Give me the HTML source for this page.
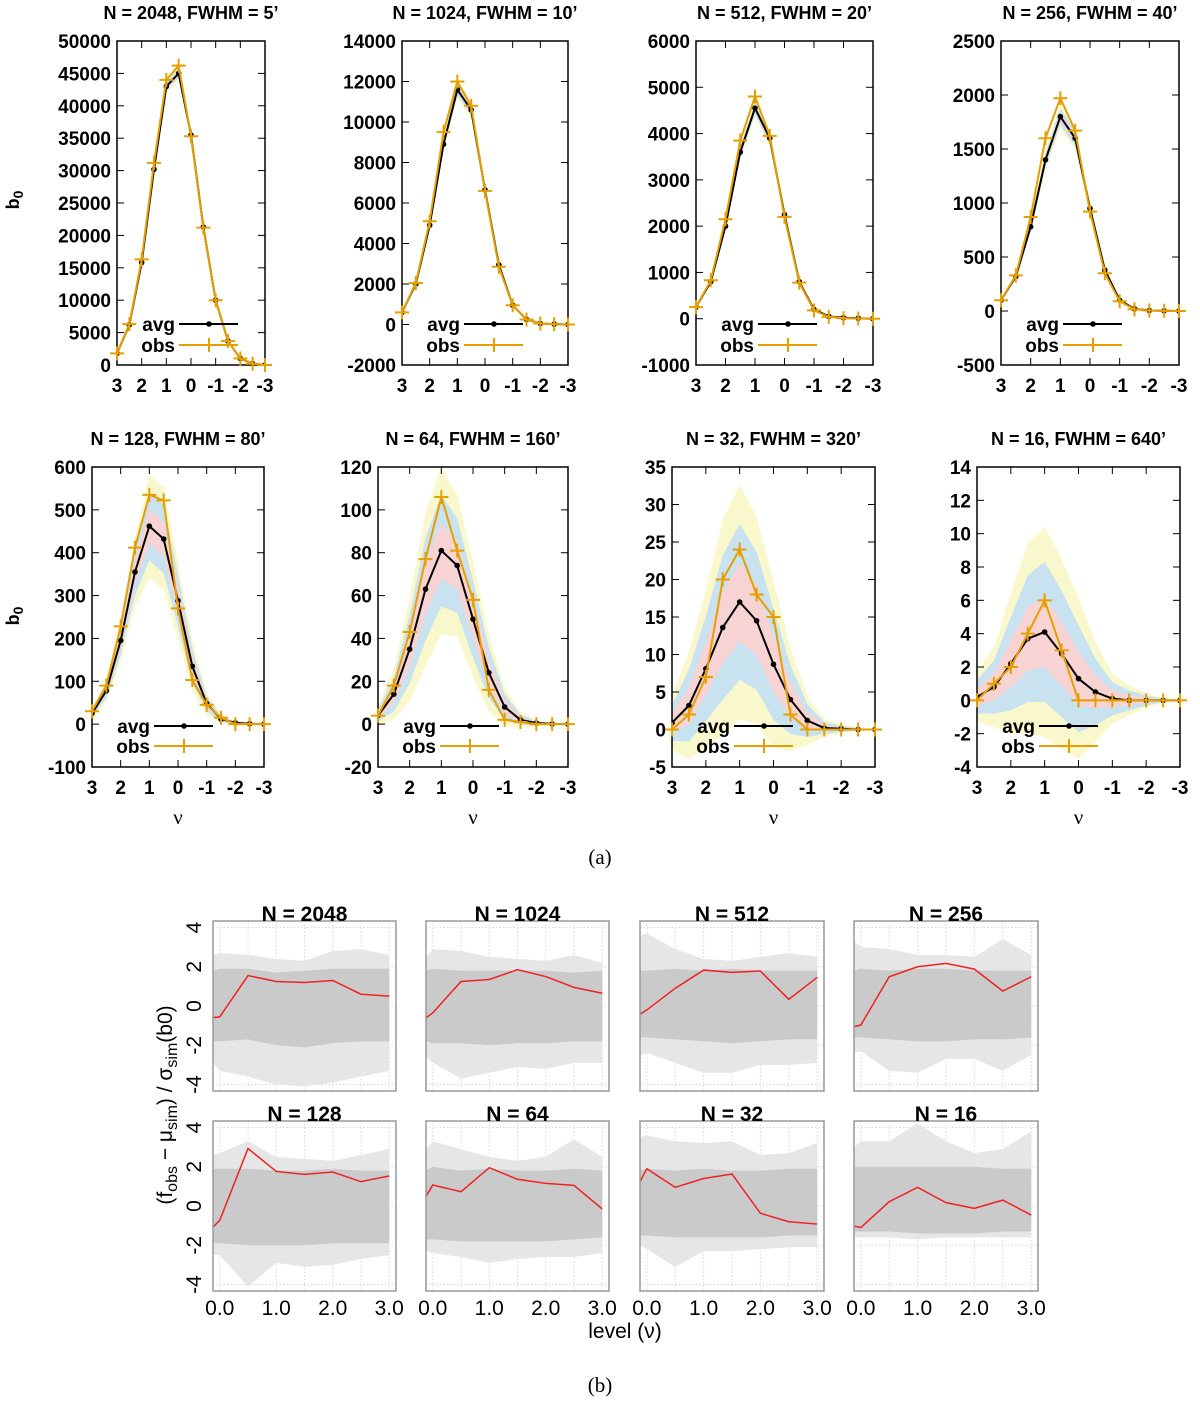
<!DOCTYPE html>
<html><head><meta charset="utf-8"><style>
html,body{margin:0;padding:0;background:#fff;}
svg{display:block;}
.tk{font-family:"Liberation Sans",sans-serif;font-weight:bold;font-size:19px;fill:#000;}
.tt{font-family:"Liberation Sans",sans-serif;font-weight:bold;font-size:18px;fill:#000;}
.sr{font-family:"Liberation Serif",serif;font-size:21px;fill:#000;}
.bt{font-family:"Liberation Sans",sans-serif;font-weight:bold;font-size:21px;fill:#000;}
.bl{font-family:"Liberation Sans",sans-serif;font-size:21px;fill:#000;}
</style></head><body>
<svg id="fig" width="1200" height="1405" viewBox="0 0 1200 1405" xmlns="http://www.w3.org/2000/svg">
<text class="sr" x="600" y="864" text-anchor="middle">(a)</text>
<text class="sr" x="600" y="1392" text-anchor="middle">(b)</text>
<text class="bl" x="625" y="1338" text-anchor="middle">level (ν)</text>
<text class="bl" transform="translate(172,1105) rotate(-90)" text-anchor="middle" font-size="23">(f<tspan font-size="16" dy="5">obs</tspan><tspan dy="-5"> − μ</tspan><tspan font-size="16" dy="5">sim</tspan><tspan dy="-5">) / σ</tspan><tspan font-size="16" dy="5">sim</tspan><tspan dy="-5">(b0)</tspan></text>
<text class="tt" transform="translate(19,200) rotate(-90)" text-anchor="middle" font-size="21">b<tspan font-size="14" dy="4">0</tspan></text>
<text class="tt" transform="translate(19,616) rotate(-90)" text-anchor="middle" font-size="21">b<tspan font-size="14" dy="4">0</tspan></text>
</svg>
<script>
// ---------- Part (a) data ----------
const nuLevels = [3,2.5,2,1.5,1,0.5,0,-0.5,-1,-1.5,-2,-2.5,-3];
const nuTicks = [3,2,1,0,-1,-2,-3];
const titlesA = ["N = 2048, FWHM = 5\u2019","N = 1024, FWHM = 10\u2019","N = 512, FWHM = 20\u2019","N = 256, FWHM = 40\u2019","N = 128, FWHM = 80\u2019","N = 64, FWHM = 160\u2019","N = 32, FWHM = 320\u2019","N = 16, FWHM = 640\u2019"];
const yMinA = [0,-2000,-1000,-500,-100,-20,-5,-4];
const yMaxA = [50000,14000,6000,2500,600,120,35,14];
const yStepA = [5000,2000,1000,500,100,20,5,2];
const avg1 = [1800,6200,15800,30200,43000,45000,35500,21300,10000,3700,1000,200,0];
const obs1 = [1800,6300,16300,31200,44000,46200,35300,21200,10000,3700,1000,200,0];
const sig1 = [25,70,150,250,350,350,250,150,70,30,10,3,0];
const avg2 = [600,2000,4900,8900,11600,10600,6650,2950,950,250,50,20,0];
const obs2 = [600,2050,5100,9500,12000,10800,6600,2850,950,250,50,20,0];
const sig2 = [10,30,65,110,150,140,90,40,15,5,2,1,0];
const avg3 = [250,800,2000,3600,4550,3900,2250,800,200,50,20,10,0];
const obs3 = [250,830,2150,3850,4800,3950,2200,780,180,40,10,5,0];
const sig3 = [5,15,30,50,65,60,40,18,6,2,1,0,0];
const avg4 = [100,320,780,1400,1800,1600,950,380,100,20,5,2,0];
const obs4 = [100,330,870,1600,1970,1670,920,350,90,15,5,2,0];
const sig4 = [3,8,18,30,38,35,23,10,3,1,0.5,0,0];
const avg5 = [25,78,195,355,462,432,288,135,48,12,3,1,0];
const obs5 = [30,90,228,412,535,522,270,103,45,15,0,0,0];
const sig5 = [4,9,17,27,40,40,30,20,9,4,1,0.5,0];
const avg6 = [4,14,35,63,81,74,49,24,8,2,0.5,0.1,0];
const obs6 = [4,18,43,77,106,81,58,16,2,1,0,0,0];
const sig6 = [1.5,4,8,12,13,11,9,6,3,1.2,0.5,0.2,0];
const avg7 = [0.9,3.2,8.1,13.6,17,14.5,8.7,4,1.2,0.2,0.1,0,0];
const obs7 = [0,2,7,20,24,18,15,2,0,0,0,0,0];
const sig7 = [1.2,2.4,3.5,4.8,5.2,4.6,3.7,2.3,1.1,0.4,0.2,0.1,0];
const avg8 = [0.2,0.8,2.2,3.7,4.1,2.8,1.3,0.5,0.1,0,0,0,0];
const obs8 = [0,1,2,4,6,3,0,0,0,0,0,0,0];
const sig8 = [0.5,0.8,1.4,1.9,2.1,1.9,1.6,1.0,0.5,0.3,0.15,0.05,0];

// ---------- Part (b) data ----------
const levelX = [-0.12,0,0.5,1,1.5,2,2.5,3];
const levelTicks = [0,1,2,3];
const titlesB = ["N = 2048","N = 1024","N = 512","N = 256","N = 128","N = 64","N = 32","N = 16"];
const redB1 = [-0.6,-0.55,1.55,1.25,1.2,1.3,0.6,0.5];
const redB2 = [-0.6,-0.35,1.25,1.35,1.85,1.5,0.95,0.65];
const redB3 = [-0.42,-0.2,0.9,1.83,1.71,1.78,0.34,1.46];
const redB4 = [-1.05,-0.97,1.49,2.0,2.17,1.88,0.76,1.49];
const redB5 = [-1.07,-0.73,2.93,1.76,1.61,1.73,1.24,1.53];
const redB6 = [0.5,1.07,0.73,1.95,1.36,1.15,1.05,-0.15];
const redB7 = [1.24,1.9,0.95,1.4,1.63,-0.37,-0.8,-0.92];
const redB8 = [-1.02,-1.1,0.22,0.95,0.17,-0.12,0.3,-0.46];
const outerHi = [[2.6,2.7,2.6,2.4,2.3,2.8,2.9,2.6],[2.5,2.9,2.8,2.5,2.4,2.3,2.6,2.2],[3.6,3.7,2.9,2.4,2.3,2.5,2.7,2.5],[3.3,3.0,2.9,2.6,2.6,2.5,3.4,2.6],[2.6,2.7,3.3,2.5,2.4,2.3,2.6,2.9],[2.9,3.3,2.9,2.5,2.3,2.5,3.4,2.5],[3.5,3.6,3.3,3.2,3.3,2.6,2.7,3.2],[3.0,3.3,3.3,4.2,3.3,2.7,2.9,3.8]];
const outerLo = [[-2.9,-3.3,-3.6,-4.0,-4.1,-3.9,-3.6,-3.3],[-2.6,-2.9,-3.7,-3.4,-3.1,-3.2,-2.9,-2.9],[-2.5,-2.4,-2.9,-3.4,-3.4,-3.0,-3.0,-2.9],[-2.4,-2.3,-3.3,-3.4,-2.7,-2.7,-3.3,-2.5],[-2.5,-2.5,-4.1,-2.9,-3.1,-3.0,-2.7,-2.5],[-2.3,-2.4,-2.6,-2.9,-2.7,-2.6,-2.6,-2.4],[-2.0,-2.2,-3.1,-2.3,-2.3,-2.2,-2.1,-2.1],[-1.6,-1.6,-1.6,-1.7,-1.6,-1.6,-1.6,-1.6]];
const innerHi = [[1.8,1.9,1.9,1.7,1.8,1.9,1.9,1.9],[1.8,1.9,1.8,1.8,1.8,1.8,1.7,1.8],[1.8,1.8,1.9,1.8,1.9,1.8,1.8,1.8],[1.8,1.9,1.8,1.9,1.9,1.8,1.8,1.8],[1.9,1.9,1.9,1.8,1.8,1.9,1.8,1.8],[1.8,2.0,1.8,1.9,1.8,1.8,1.9,1.8],[1.8,1.9,1.8,1.9,1.8,1.8,1.9,1.9],[2.0,2.0,2.0,2.0,2.0,2.0,1.9,1.9]];
const innerLo = [[-1.8,-1.8,-1.7,-2.0,-2.1,-1.9,-1.8,-1.8],[-1.8,-1.9,-1.9,-2.0,-1.9,-1.9,-1.8,-1.8],[-1.6,-1.6,-1.7,-1.8,-1.9,-1.8,-1.7,-1.7],[-1.6,-1.6,-1.7,-1.8,-1.8,-1.7,-1.7,-1.6],[-1.9,-1.9,-2.0,-2.0,-2.0,-1.9,-1.9,-1.9],[-1.7,-1.7,-1.8,-1.8,-1.8,-1.8,-1.7,-1.6],[-1.5,-1.5,-1.6,-1.6,-1.6,-1.6,-1.5,-1.5],[-1.3,-1.3,-1.3,-1.4,-1.4,-1.4,-1.3,-1.3]];

const NS="http://www.w3.org/2000/svg";
const svg=document.getElementById('fig');
function mk(tag,attrs,parent){const e=document.createElementNS(NS,tag);for(const k in attrs)e.setAttribute(k,attrs[k]);(parent||svg).appendChild(e);return e;}

const avgs=[avg1,avg2,avg3,avg4,avg5,avg6,avg7,avg8];
const obss=[obs1,obs2,obs3,obs4,obs5,obs6,obs7,obs8];
const sigs=[sig1,sig2,sig3,sig4,sig5,sig6,sig7,sig8];
const frA=[[117,265,41,365],[402,568,41,365],[696,873,41,365],[1001,1179,41,365],[92,264,467,767],[378,568,467,767],[672,875,467,767],[977,1180,467,767]];

frA.forEach((f,i)=>{
  const [L,R,T,B]=f;
  const g=mk('g',{});
  
  
  const ymin=yMinA[i],ymax=yMaxA[i];
  const xs=v=>L+(3-v)/6*(R-L);
  const ys=v=>B-(v-ymin)/(ymax-ymin)*(B-T);
  const cid='clipA'+i;
  const cp=mk('clipPath',{id:cid},g);mk('rect',{x:L,y:T,width:R-L,height:B-T},cp);
  const cg=mk('g',{'clip-path':'url(#'+cid+')'},g);
  const a=avgs[i],o=obss[i],s=sigs[i];
  [[3,'#f9f7cc'],[2,'#c9e2f0'],[1,'#f8d3d3']].forEach(([k,c])=>{
    let pts=nuLevels.map((v,j)=>xs(v)+','+ys(a[j]+k*s[j]));
    pts=pts.concat(nuLevels.map((v,j)=>xs(v)+','+ys(a[j]-k*s[j])).reverse());
    const p=mk('polygon',{points:pts.join(' '),fill:c},cg);
    
    
  });
  const fr=mk('rect',{x:L,y:T,width:R-L,height:B-T,fill:'none',stroke:'#000','stroke-width':1.5},g);
  
  
  for(let v=ymin;v<=ymax+1e-9;v+=yStepA[i]){
    const y=ys(v);
    mk('line',{x1:L,x2:L+7,y1:y,y2:y,stroke:'#000','stroke-width':1},g);
    mk('line',{x1:R,x2:R-7,y1:y,y2:y,stroke:'#000','stroke-width':1},g);
    const t=mk('text',{class:'tk',x:L-6,y:y+7,'text-anchor':'end'},g);t.textContent=String(Math.round(v));
    
    
  }
  nuTicks.forEach(v=>{
    const x=xs(v);
    mk('line',{x1:x,x2:x,y1:B,y2:B-7,stroke:'#000','stroke-width':1},g);
    mk('line',{x1:x,x2:x,y1:T,y2:T+7,stroke:'#000','stroke-width':1},g);
    const t=mk('text',{class:'tk',x:x,y:B+27,'text-anchor':'middle'},g);t.textContent=String(v);
    
    
  });
  const la=mk('polyline',{points:nuLevels.map((v,j)=>xs(v)+','+ys(a[j])).join(' '),fill:'none',stroke:'#000','stroke-width':2},cg);
  
  
  nuLevels.forEach((v,j)=>{const c=mk('circle',{cx:xs(v),cy:ys(a[j]),r:2.8,fill:'#000'},cg);
    
    });
  const lo=mk('polyline',{points:nuLevels.map((v,j)=>xs(v)+','+ys(o[j])).join(' '),fill:'none',stroke:'#e69f00','stroke-width':2},g);
  
  
  nuLevels.forEach((v,j)=>{const x=xs(v),y=ys(o[j]);
    const m=mk('path',{d:`M${x-7},${y}H${x+7}M${x},${y-7}V${y+7}`,stroke:'#e69f00','stroke-width':2},g);
    
    });
  const ly1=i<4?324:726, ly2=i<4?345:746;
  const t1=mk('text',{class:'tk',x:L+58,y:ly1+7,'text-anchor':'end'},g);t1.textContent='avg';
  
  
  mk('line',{x1:L+62,x2:L+121,y1:ly1,y2:ly1,stroke:'#000','stroke-width':2},g);
  mk('circle',{cx:L+92,cy:ly1,r:2.8,fill:'#000'},g);
  const t2=mk('text',{class:'tk',x:L+58,y:ly2+7,'text-anchor':'end'},g);t2.textContent='obs';
  
  
  mk('line',{x1:L+62,x2:L+121,y1:ly2,y2:ly2,stroke:'#e69f00','stroke-width':2},g);
  mk('path',{d:`M${L+92},${ly2-7}V${ly2+7}`,stroke:'#e69f00','stroke-width':2},g);
  const tt=mk('text',{class:'tt',x:(L+R)/2,y:T-22,'text-anchor':'middle'},g);tt.textContent=titlesA[i];
  
  
  if(i>=4){const nu=mk('text',{class:'sr',x:(L+R)/2,y:824,'text-anchor':'middle'},g);nu.textContent='ν';
    
    }
});

// ---------- Part (b) ----------
const reds=[redB1,redB2,redB3,redB4,redB5,redB6,redB7,redB8];
const frB=[[213,396,921,1091],[426,609,921,1091],[640,824,921,1091],[854,1038,921,1091],[213,396,1121,1291],[426,609,1121,1291],[640,824,1121,1291],[854,1038,1121,1291]];
frB.forEach((f,i)=>{
  const [L,R,T,B]=f;
  const g=mk('g',{});
  
  
  const xs=v=>L+(v+0.12)/3.24*(R-L);
  const ys=v=>B-(v+4.33)/8.66*(B-T);
  [0,0.5,1,1.5,2,2.5,3].forEach(v=>mk('line',{x1:xs(v),x2:xs(v),y1:T,y2:B,stroke:'#d8d8d8','stroke-dasharray':'1.5,2'},g));
  [-4,-2,0,2,4].forEach(v=>mk('line',{x1:L,x2:R,y1:ys(v),y2:ys(v),stroke:'#d8d8d8','stroke-dasharray':'1.5,2'},g));
  const oh=outerHi[i],ol=outerLo[i],ih=innerHi[i],il=innerLo[i];
  let po=levelX.map((v,j)=>xs(v)+','+ys(oh[j])).concat(levelX.map((v,j)=>xs(v)+','+ys(ol[j])).reverse());
  const b1=mk('polygon',{points:po.join(' '),fill:'#e6e6e6'},g);
  
  
  let pi=levelX.map((v,j)=>xs(v)+','+ys(ih[j])).concat(levelX.map((v,j)=>xs(v)+','+ys(il[j])).reverse());
  const b2=mk('polygon',{points:pi.join(' '),fill:'#cacaca'},g);
  
  
  const r=reds[i];
  const rl=mk('polyline',{points:levelX.map((v,j)=>xs(v)+','+ys(r[j])).join(' '),fill:'none',stroke:'#ee2222','stroke-width':1.5},g);
  
  
  const fr=mk('rect',{x:L,y:T,width:R-L,height:B-T,fill:'none',stroke:'#999','stroke-width':1.5},g);
  
  
  const tt=mk('text',{class:'bt',x:(L+R)/2,y:T,'text-anchor':'middle'},g);tt.textContent=titlesB[i];
  
  
  if(i%4===0){[-4,-2,0,2,4].forEach(v=>{
    const t=mk('text',{class:'bl',transform:`translate(${L-12},${ys(v)}) rotate(-90)`,'text-anchor':'middle'},g);t.textContent=String(v);
    
    });}
  if(i>=4){levelTicks.forEach(v=>{
    const t=mk('text',{class:'bl',x:xs(v),y:1315,'text-anchor':'middle'},g);t.textContent=v.toFixed(1);
    
    });}
});
</script>
</body></html>
